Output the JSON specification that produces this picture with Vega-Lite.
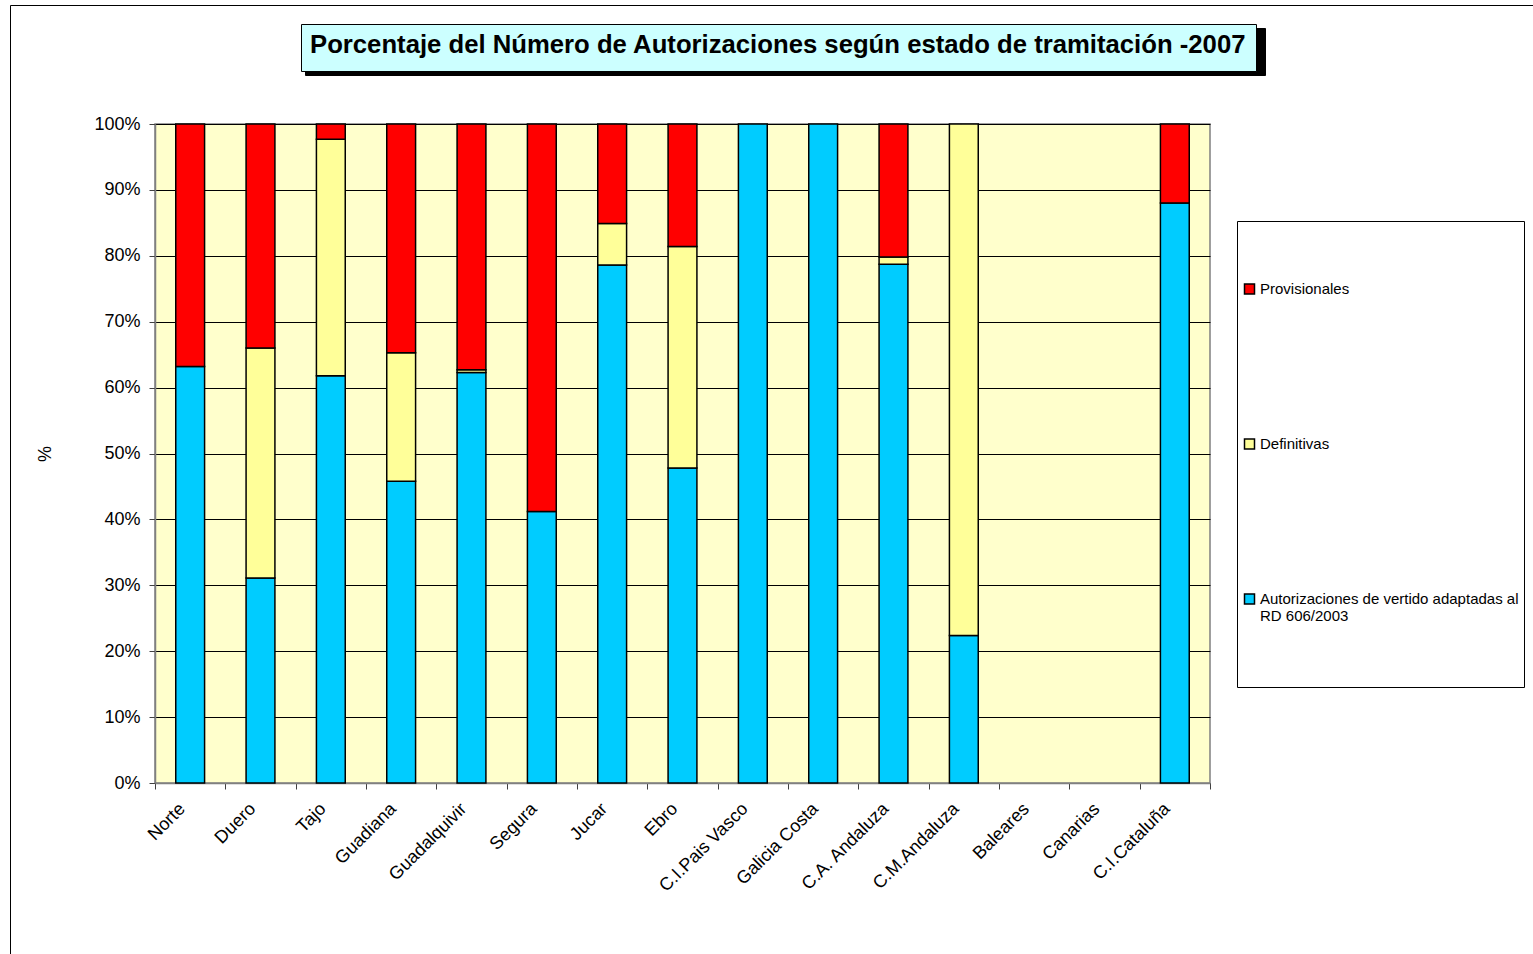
{
  "$schema": "https://vega.github.io/schema/vega-lite/v6.json",
  "background": "white",
  "autosize": {"type": "none"},
  "padding": {"left": 155, "top": 124, "right": 323, "bottom": 171},
  "width": 1055,
  "height": 659,
  "config": {"font": "Liberation Sans"},
  "view": {"fill": "#FFFFCC", "stroke": "#808080", "strokeWidth": 1.5},
  "data": {
    "values": [
      {"Cuenca": "Norte", "Serie": "Autorizaciones de vertido adaptadas al RD 606/2003", "Valor": 63.2},
      {"Cuenca": "Norte", "Serie": "Provisionales", "Valor": 36.8},
      {"Cuenca": "Duero", "Serie": "Autorizaciones de vertido adaptadas al RD 606/2003", "Valor": 31.1},
      {"Cuenca": "Duero", "Serie": "Definitivas", "Valor": 34.9},
      {"Cuenca": "Duero", "Serie": "Provisionales", "Valor": 34.0},
      {"Cuenca": "Tajo", "Serie": "Autorizaciones de vertido adaptadas al RD 606/2003", "Valor": 61.8},
      {"Cuenca": "Tajo", "Serie": "Definitivas", "Valor": 35.9},
      {"Cuenca": "Tajo", "Serie": "Provisionales", "Valor": 2.3},
      {"Cuenca": "Guadiana", "Serie": "Autorizaciones de vertido adaptadas al RD 606/2003", "Valor": 45.8},
      {"Cuenca": "Guadiana", "Serie": "Definitivas", "Valor": 19.5},
      {"Cuenca": "Guadiana", "Serie": "Provisionales", "Valor": 34.7},
      {"Cuenca": "Guadalquivir", "Serie": "Autorizaciones de vertido adaptadas al RD 606/2003", "Valor": 62.3},
      {"Cuenca": "Guadalquivir", "Serie": "Definitivas", "Valor": 0.4},
      {"Cuenca": "Guadalquivir", "Serie": "Provisionales", "Valor": 37.3},
      {"Cuenca": "Segura", "Serie": "Autorizaciones de vertido adaptadas al RD 606/2003", "Valor": 41.2},
      {"Cuenca": "Segura", "Serie": "Provisionales", "Valor": 58.8},
      {"Cuenca": "Jucar", "Serie": "Autorizaciones de vertido adaptadas al RD 606/2003", "Valor": 78.6},
      {"Cuenca": "Jucar", "Serie": "Definitivas", "Valor": 6.3},
      {"Cuenca": "Jucar", "Serie": "Provisionales", "Valor": 15.1},
      {"Cuenca": "Ebro", "Serie": "Autorizaciones de vertido adaptadas al RD 606/2003", "Valor": 47.8},
      {"Cuenca": "Ebro", "Serie": "Definitivas", "Valor": 33.6},
      {"Cuenca": "Ebro", "Serie": "Provisionales", "Valor": 18.6},
      {"Cuenca": "C.I.Pais Vasco", "Serie": "Autorizaciones de vertido adaptadas al RD 606/2003", "Valor": 100},
      {"Cuenca": "Galicia Costa", "Serie": "Autorizaciones de vertido adaptadas al RD 606/2003", "Valor": 100},
      {"Cuenca": "C.A. Andaluza", "Serie": "Autorizaciones de vertido adaptadas al RD 606/2003", "Valor": 78.7},
      {"Cuenca": "C.A. Andaluza", "Serie": "Definitivas", "Valor": 1.1},
      {"Cuenca": "C.A. Andaluza", "Serie": "Provisionales", "Valor": 20.2},
      {"Cuenca": "C.M.Andaluza", "Serie": "Autorizaciones de vertido adaptadas al RD 606/2003", "Valor": 22.4},
      {"Cuenca": "C.M.Andaluza", "Serie": "Definitivas", "Valor": 77.6},
      {"Cuenca": "C.I.Cataluña", "Serie": "Autorizaciones de vertido adaptadas al RD 606/2003", "Valor": 88.0},
      {"Cuenca": "C.I.Cataluña", "Serie": "Provisionales", "Valor": 12.0}
    ]
  },
  "mark": {"type": "bar", "stroke": "black", "strokeWidth": 1.5, "width": {"band": 0.41}},
  "encoding": {
    "x": {
      "field": "Cuenca",
      "type": "nominal",
      "sort": null,
      "scale": {
        "domain": ["Norte", "Duero", "Tajo", "Guadiana", "Guadalquivir", "Segura", "Jucar", "Ebro", "C.I.Pais Vasco", "Galicia Costa", "C.A. Andaluza", "C.M.Andaluza", "Baleares", "Canarias", "C.I.Cataluña"],
        "paddingInner": 0,
        "paddingOuter": 0
      },
      "axis": {
        "title": null,
        "labelAngle": -45,
        "labelAlign": "right",
        "labelBaseline": "middle",
        "labelFontSize": 18,
        "labelColor": "black",
        "labelPadding": 17,
        "labelOffset": -8,
        "tickBand": "extent",
        "tickSize": 6,
        "tickColor": "#404040",
        "domainColor": "#808080",
        "domainWidth": 1.5,
        "grid": false
      }
    },
    "y": {
      "field": "Valor",
      "type": "quantitative",
      "stack": "normalize",
      "scale": {"domain": [0, 1], "nice": false},
      "axis": {
        "title": "%",
        "titleFontSize": 18,
        "titleFontWeight": "normal",
        "titleColor": "black",
        "titleX": -101,
        "values": [0, 0.1, 0.2, 0.3, 0.4, 0.5, 0.6, 0.7, 0.8, 0.9, 1],
        "format": ".0%",
        "labelFontSize": 18,
        "labelColor": "black",
        "labelPadding": 9,
        "tickSize": 6,
        "tickColor": "#404040",
        "domainColor": "#808080",
        "domainWidth": 1.5,
        "grid": true,
        "gridColor": "black",
        "gridWidth": 1
      }
    },
    "color": {
      "field": "Serie",
      "type": "nominal",
      "scale": {
        "domain": ["Provisionales", "Definitivas", "Autorizaciones de vertido adaptadas al RD 606/2003"],
        "range": ["#FF0000", "#FFFF99", "#00CCFF"]
      },
      "legend": {
        "orient": "none",
        "legendX": 1082,
        "legendY": 97,
        "direction": "vertical",
        "strokeColor": "black",
        "fillColor": "white",
        "padding": 5,
        "clipHeight": 126,
        "rowPadding": 29,
        "symbolType": "square",
        "symbolSize": 100,
        "symbolStrokeColor": "black",
        "symbolStrokeWidth": 1.5,
        "symbolOpacity": 1,
        "labelFontSize": 15,
        "labelColor": "black",
        "labelLimit": 400,
        "labelOffset": 3,
        "labelExpr": "datum.label == 'Provisionales' || datum.label == 'Definitivas' ? datum.label : ['Autorizaciones de vertido adaptadas al', 'RD 606/2003']",
        "title": " ",
        "titleOrient": "bottom",
        "titleFontSize": 10,
        "titlePadding": 10
      }
    },
    "strokeDash": {
      "datum": "sombra",
      "legend": {
        "orient": "none",
        "legendX": 150,
        "legendY": -96,
        "title": null,
        "fillColor": "black",
        "strokeColor": "black",
        "padding": 0,
        "clipHeight": 47,
        "symbolType": "M-1,-0.0492H1V0.0492H-1Z",
        "symbolSize": 913936,
        "symbolFillColor": "black",
        "symbolStrokeColor": "black",
        "symbolStrokeWidth": 0,
        "symbolOpacity": 1,
        "labelFontSize": 1,
        "labelOffset": 0,
        "labelOpacity": 0
      }
    },
    "opacity": {
      "datum": "titulo",
      "type": "ordinal",
      "scale": {"range": [1, 1]},
      "legend": {
        "orient": "none",
        "legendX": 146,
        "legendY": -100,
        "title": "Porcentaje del Número de Autorizaciones según estado de tramitación -2007",
        "titleFont": "Liberation Sans",
        "titleFontSize": 25.7,
        "titleFontWeight": "bold",
        "titleColor": "black",
        "titleLimit": 2000,
        "titlePadding": 2,
        "fillColor": "#CCFFFF",
        "strokeColor": "black",
        "padding": 9,
        "symbolSize": 0,
        "symbolStrokeWidth": 0,
        "labelFontSize": 1,
        "labelOpacity": 0
      }
    },
    "strokeWidth": {
      "datum": "marco",
      "type": "ordinal",
      "scale": {"range": [1.5, 1.5]},
      "legend": {
        "orient": "none",
        "legendX": -145,
        "legendY": -119,
        "title": null,
        "fillColor": "transparent",
        "strokeColor": "black",
        "padding": 770,
        "symbolSize": 0,
        "symbolStrokeWidth": 0,
        "labelFontSize": 1,
        "labelOpacity": 0
      }
    },
    "order": {"field": "Serie", "sort": "ascending"}
  }
}
